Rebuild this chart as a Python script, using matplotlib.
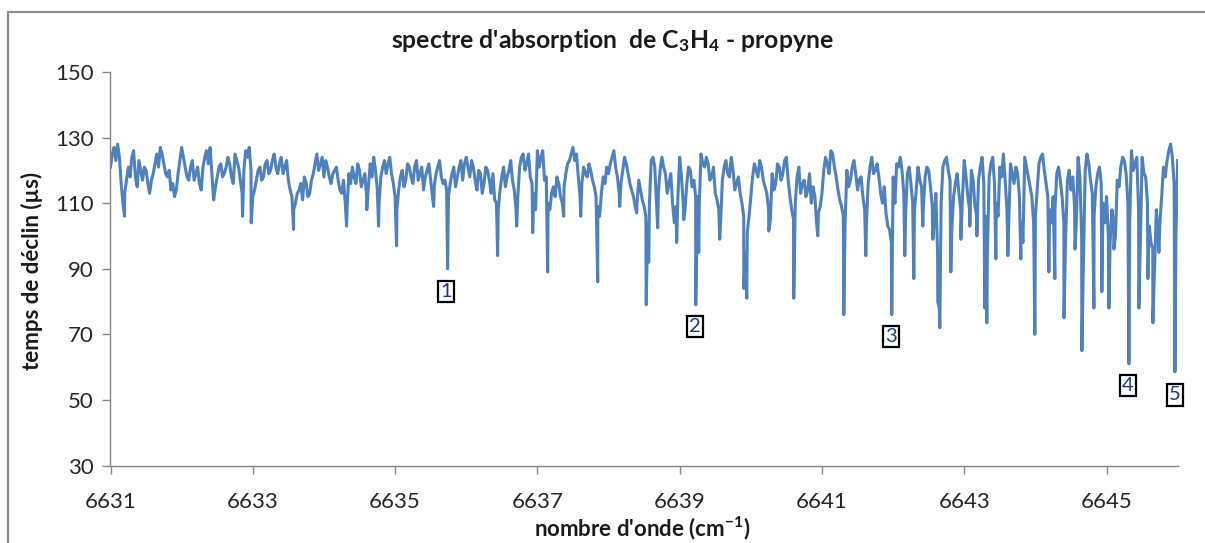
import numpy as np
import matplotlib
matplotlib.use("Agg")
import matplotlib.pyplot as plt
from matplotlib.patches import Rectangle

# Axe des nombres d'onde (cm-1) et bornes
x_debut = 6631.0
x_fin = 6646.0
pas = 0.05
x_ticks = [6631, 6633, 6635, 6637, 6639, 6641, 6643, 6645]
y_ticks = [30, 50, 70, 90, 110, 130, 150]

# Temps de declin (us), un point tous les 0.05 cm-1
temps_base = [
    121, 127, 128, 116, 113, 121, 124, 118, 123, 117, 120, 113, 119, 125, 127, 122, 118, 114, 112, 119,  # 6631
    127, 121, 117, 123, 119, 116, 121, 126, 127, 111, 118, 122, 119, 124, 118, 125, 121, 113, 126, 127,  # 6632
    112, 117, 121, 118, 123, 120, 125, 119, 124, 121, 117, 112, 110, 114, 111, 116, 113, 119, 125, 122,  # 6633
    118, 121, 116, 120, 117, 113, 110, 119, 121, 116, 120, 117, 112, 122, 124, 114, 118, 123, 122, 119,  # 6634
    112, 114, 120, 117, 121, 116, 123, 119, 114, 120, 117, 115, 121, 118, 117, 112, 119, 115, 121, 117,  # 6635
    124, 118, 121, 114, 119, 116, 120, 113, 111, 108, 118, 115, 120, 117, 108, 121, 125, 122, 118, 113,  # 6636
    126, 124, 117, 110, 113, 112, 116, 110, 119, 123, 127, 125, 112, 121, 118, 120, 115, 109, 113, 116,  # 6637
    119, 124, 121, 113, 120, 122, 116, 112, 110, 114, 109, 104, 123, 121, 113, 124, 119, 116, 110, 109,  # 6638
    124, 110, 116, 120, 117, 112, 125, 121, 122, 118, 113, 108, 117, 123, 118, 120, 116, 113, 106, 101,  # 6639
    112, 122, 118, 121, 115, 108, 119, 116, 121, 119, 124, 112, 105, 118, 113, 117, 114, 110, 112, 107,  # 6640
    113, 124, 119, 125, 118, 111, 106, 120, 117, 123, 114, 118, 108, 116, 124, 120, 118, 110, 107, 102,  # 6641
    118, 122, 124, 113, 119, 116, 108, 121, 115, 118, 120, 109, 113, 78, 121, 124, 117, 112, 119, 108,   # 6642
    123, 112, 120, 109, 117, 124, 106, 118, 124, 110, 121, 125, 108, 122, 116, 119, 104, 124, 118, 112,  # 6643
    106, 122, 125, 116, 108, 112, 119, 117, 104, 117, 114, 109, 124, 100, 120, 122, 113, 115, 121, 110,  # 6644
    112, 98, 104, 117, 121, 123, 110, 126, 122, 108, 124, 118, 103, 96, 108, 104, 121, 123, 128, 116,    # 6645
    123,
]

# Points intermediaires (decales de 0.025 cm-1)
temps_inter = [
    125, 123, 124, 110, 117, 118, 126, 115, 120, 121, 116, 117, 122, 121, 125, 119, 120, 116, 114, 123,  # 6631
    124, 118, 121, 117, 121, 114, 124, 122, 119, 115, 121, 118, 121, 122, 116, 123, 117, 120, 124, 120,  # 6632
    114, 120, 117, 122, 119, 123, 121, 122, 119, 123, 114, 108, 113, 116, 118, 112, 117, 122, 120, 124,  # 6633
    123, 118, 119, 121, 114, 117, 108, 116, 118, 122, 115, 119, 115, 118, 120, 110, 121, 119, 124, 116,  # 6634
    108, 118, 115, 122, 118, 121, 117, 121, 118, 122, 112, 119, 123, 116, 114, 116, 121, 118, 123, 122,  # 6635
    121, 123, 117, 120, 113, 121, 117, 119, 110, 114, 121, 118, 123, 114, 112, 124, 120, 125, 116, 108,  # 6636
    121, 126, 118, 108, 115, 118, 112, 115, 122, 125, 123, 118, 116, 119, 122, 117, 112, 106, 118, 121,  # 6637
    122, 126, 118, 116, 124, 119, 114, 109, 117, 111, 106, 110, 124, 110, 120, 121, 113, 119, 104, 112,  # 6638
    118, 108, 121, 115, 112, 109, 122, 124, 117, 121, 111, 104, 121, 119, 124, 114, 118, 110, 95, 106,   # 6639
    118, 120, 123, 117, 113, 105, 114, 122, 117, 123, 117, 108, 110, 121, 116, 112, 119, 115, 104, 109,  # 6640
    120, 122, 126, 121, 114, 109, 104, 115, 121, 119, 117, 112, 104, 121, 119, 122, 113, 115, 103, 98,   # 6641
    110, 121, 120, 106, 121, 110, 114, 117, 109, 121, 115, 104, 95, 110, 123, 120, 102, 116, 113, 112,   # 6642
    118, 108, 117, 106, 121, 116, 95, 122, 116, 106, 118, 117, 104, 119, 121, 112, 98, 121, 115, 104,    # 6643
    114, 124, 120, 112, 104, 108, 121, 112, 100, 120, 118, 104, 118, 92, 125, 117, 106, 119, 116, 104,   # 6644
    100, 108, 100, 115, 124, 119, 104, 120, 124, 98, 119, 110, 98, 90, 100, 112, 118, 126, 124, 100,     # 6645
]

# Minima des raies d'absorption (position cm-1, temps us)
raies_x = [
    6631.197, 6632.856, 6632.978, 6633.573, 6634.318, 6634.602, 6634.768, 6635.021,
    6635.542, 6635.738, 6636.441, 6636.709, 6636.934, 6637.145, 6637.370, 6637.609,
    6637.848, 6638.157, 6638.396, 6638.530, 6638.565, 6638.691, 6638.958, 6639.057,
    6639.226, 6639.268, 6639.563, 6639.902, 6639.943, 6640.252, 6640.603, 6640.941,
    6641.307, 6641.616, 6641.981, 6642.164, 6642.291, 6642.417, 6642.558, 6642.628,
    6642.656, 6642.811, 6642.952, 6643.078, 6643.177, 6643.289, 6643.317, 6643.444,
    6643.613, 6643.795, 6643.992, 6644.189, 6644.273, 6644.402, 6644.557, 6644.653,
    6644.822, 6644.934, 6645.033, 6645.103, 6645.314, 6645.454, 6645.581, 6645.651,
    6645.736, 6645.961,
]
raies_y = [
    106, 106, 104, 102, 103, 108, 103, 97,
    109, 90, 94, 103, 101, 89, 106, 106,
    86, 109, 107, 79, 92, 102.5, 98, 105,
    79, 95, 99, 84, 81, 101.5, 81, 100,
    76, 94, 76, 94, 87, 103, 99, 80,
    72, 89, 99, 103, 100, 78, 73.5, 93,
    94, 93, 70, 89, 87, 75, 96, 65,
    78, 83, 78, 96, 61, 78, 87, 73.5,
    95, 58.6,
]

# Raies numerotees
etiquettes = ["1", "2", "3", "4", "5"]
etiq_x = [6635.72, 6639.21, 6641.97, 6645.30, 6645.96]
etiq_y = [83.2, 72.3, 69.2, 54.3, 51.5]

# Assemblage de la courbe
x_base = x_debut + pas * np.arange(len(temps_base))
x_inter = x_debut + pas / 2 + pas * np.arange(len(temps_inter))
x_all = np.concatenate([x_base, x_inter, np.array(raies_x)])
y_all = np.concatenate([np.array(temps_base, dtype=float),
                        np.array(temps_inter, dtype=float),
                        np.array(raies_y, dtype=float)])
ordre = np.argsort(x_all, kind="stable")
x_all = x_all[ordre]
y_all = y_all[ordre]

plt.rcParams['font.family'] = ['Lato', 'DejaVu Sans']
plt.rcParams['mathtext.default'] = 'regular'

W, H = 1205, 543
fig = plt.figure(figsize=(W / 100, H / 100), dpi=100)

# cadre gris de la zone graphique
fig.patches.append(Rectangle((8 / W, -0.1), 1.2, 1.1 - 12 / H,
                             transform=fig.transFigure, fill=False,
                             edgecolor="#8c8c8c", linewidth=1.6))

ax = fig.add_axes([110.5 / W, (H - 465.5) / H, 1067.2 / W, 393.5 / H])
ax.plot(x_all, y_all, color="#4F81BD", linewidth=2.2, solid_joinstyle="round")

ax.set_xlim(x_debut, x_fin)
ax.set_ylim(30, 150)
ax.set_xticks(x_ticks)
ax.set_yticks(y_ticks)
for s in ["top", "right"]:
    ax.spines[s].set_visible(False)
for s in ["left", "bottom"]:
    ax.spines[s].set_color("#868686")
    ax.spines[s].set_linewidth(1.0)
ax.tick_params(axis="both", colors="#868686", labelcolor="#262626",
               labelsize=16, length=6, width=1.0, direction="out")
ax.tick_params(axis="x", pad=13)
ax.tick_params(axis="y", pad=6)

for t, xe, ye in zip(etiquettes, etiq_x, etiq_y):
    ax.text(xe, ye, t, ha="center", va="center", fontsize=14.5, color="#1F3A78",
            bbox=dict(boxstyle="square,pad=0.1", fc="white", ec="black", lw=1.6))

fig.text(612 / W, 1 - 40 / H, "spectre d'absorption  de C$_3$H$_4$ - propyne",
         ha="center", va="center", fontsize=17.8, fontweight="bold", color="#1a1a1a")
fig.text(642 / W, 1 - 528 / H, "nombre d'onde (cm$^{-1}$)",
         ha="center", va="center", fontsize=16, fontweight="bold", color="#1a1a1a")
fig.text(32 / W, 1 - 271 / H, "temps de déclin (µs)", rotation=90,
         ha="center", va="center", fontsize=16, fontweight="bold", color="#1a1a1a")

fig.savefig("out.png", dpi=100)
